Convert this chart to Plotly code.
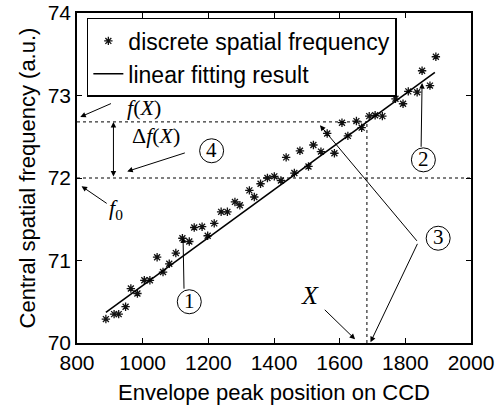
import plotly.graph_objects as go

# ---- data ----
pos = [888, 913, 927, 948, 964, 984, 1005, 1022, 1044, 1062,
       1081, 1101, 1121, 1142, 1157, 1181, 1198, 1218, 1239, 1258,
       1281, 1296, 1325, 1340, 1359, 1380, 1401, 1421, 1437, 1462,
       1479, 1505, 1520, 1543, 1562, 1584, 1607, 1625, 1651, 1667,
       1690, 1708, 1730, 1749, 1770, 1793, 1809, 1836, 1851, 1875,
       1893]
freq = [70.29, 70.35, 70.35, 70.44, 70.66, 70.60, 70.76, 70.76, 71.04, 70.86,
        70.96, 71.09, 71.27, 71.23, 71.40, 71.41, 71.30, 71.45, 71.59, 71.59,
        71.71, 71.67, 71.85, 71.77, 71.93, 72.00, 72.02, 71.97, 72.25, 72.06,
        72.33, 72.14, 72.40, 72.32, 72.54, 72.30, 72.67, 72.51, 72.69, 72.61,
        72.75, 72.76, 72.75, 73.04, 72.96, 72.90, 73.05, 73.04, 73.30, 73.12,
        73.47]
fit_x = [888, 1890]
fit_y = [70.37, 73.28]

X_val = 1683      # marked position X
fX_val = 72.68    # f(X)
f0_val = 72.0     # f0

x_ticks = [800, 1000, 1200, 1400, 1600, 1800, 2000]
y_ticks = [70, 71, 72, 73, 74]

SANS = "Liberation Sans, Arial, sans-serif"
SERIF = "Liberation Serif, DejaVu Serif, serif"

fig = go.Figure()
fig.add_trace(go.Scatter(
    x=pos, y=freq, mode="markers", name="discrete spatial frequency",
    marker=dict(symbol="asterisk-open", size=7, color="#111",
                line=dict(width=1.3, color="#111")),
))
fig.add_trace(go.Scatter(
    x=fit_x, y=fit_y, mode="lines", name="linear fitting result",
    line=dict(color="black", width=1.6),
))

# reference dotted lines
dot = dict(color="black", width=1, dash="dot")
fig.add_shape(type="line", xref="x", yref="y", x0=800, x1=X_val, y0=fX_val, y1=fX_val, line=dot)
fig.add_shape(type="line", xref="x", yref="y", x0=800, x1=2000, y0=f0_val, y1=f0_val, line=dot)
fig.add_shape(type="line", xref="x", yref="y", x0=X_val, x1=X_val, y0=70, y1=fX_val, line=dot)

def arrow(tail, tip, both=False):
    d = dict(x=tip[0], y=tip[1], ax=tail[0], ay=tail[1], xref="x", yref="y",
             axref="x", ayref="y", text="", showarrow=True, arrowhead=2,
             arrowsize=1.1, arrowwidth=1, arrowcolor="black")
    if both:
        d.update(arrowside="end+start", startarrowhead=2, startarrowsize=1.1)
    fig.add_annotation(**d)

def label(x, y, text, size, family=SERIF):
    fig.add_annotation(x=x, y=y, xref="x", yref="y", text=text, showarrow=False,
                       font=dict(family=family, size=size, color="black"))

def circled(x, y, digit):
    fig.add_shape(type="circle", xref="x", yref="y", xsizemode="pixel", ysizemode="pixel",
                  xanchor=x, yanchor=y, x0=-12, x1=12, y0=-12, y1=12,
                  line=dict(color="black", width=1))
    fig.add_annotation(x=x, y=y, xref="x", yref="y", text=digit, showarrow=False,
                       yshift=1, font=dict(family=SERIF, size=21, color="black"))

# f(X)
label(1005, 72.86, "<i>f</i>(<i>X</i>)", 22)
arrow((908, 72.91), (810, 72.74))
# delta f(X)
arrow((911, 72.0), (911, 72.68), both=True)
label(1040, 72.52, "Δ<i>f</i>(<i>X</i>)", 22)
# 4
circled(1210, 72.33, "4")
arrow((1133, 72.31), (953, 72.08))
# f0
label(918, 71.62, "<i>f</i><sub>0</sub>", 22)
arrow((895, 71.68), (814, 71.90))
# 1
circled(1142, 70.50, "1")
arrow((1126, 70.64), (1123, 71.28))
# 2
circled(1855, 72.22, "2")
arrow((1848, 72.36), (1851, 73.15))
# 3
circled(1900, 71.27, "3")
arrow((1839, 71.22), (1540, 72.64))
arrow((1839, 71.22), (1694, 70.01))
# X
label(1510, 70.58, "<i>X</i>", 26)
arrow((1550, 70.42), (1647, 70.045))

axis_common = dict(showgrid=False, zeroline=False, showline=True, linecolor="black",
                   linewidth=1.5, mirror="ticks", ticks="inside", ticklen=5,
                   tickwidth=1, tickcolor="black",
                   tickfont=dict(family=SANS, size=21, color="black"))

fig.update_layout(
    width=498, height=407,
    margin=dict(l=77, r=27, t=13, b=64, autoexpand=False),
    paper_bgcolor="white", plot_bgcolor="white",
    xaxis=dict(range=[800, 2000], tickvals=x_ticks, **axis_common,
               title=dict(text="Envelope peak position on CCD", standoff=12,
                          font=dict(family=SANS, size=22, color="black"))),
    yaxis=dict(range=[70, 74], tickvals=y_ticks, **axis_common,
               title=dict(text="Central spatial frequency (a.u.)", standoff=6,
                          font=dict(family=SANS, size=22, color="black"))),
    legend=dict(x=0.025, y=0.985, xanchor="left", yanchor="top",
                bgcolor="white", bordercolor="black", borderwidth=1.5,
                font=dict(family=SANS, size=23, color="black"),
                itemwidth=30, tracegroupgap=0),
    showlegend=True,
)

fig.write_html("out.html", config={"displayModeBar": False},
               post_script="document.body.style.margin='0';")
